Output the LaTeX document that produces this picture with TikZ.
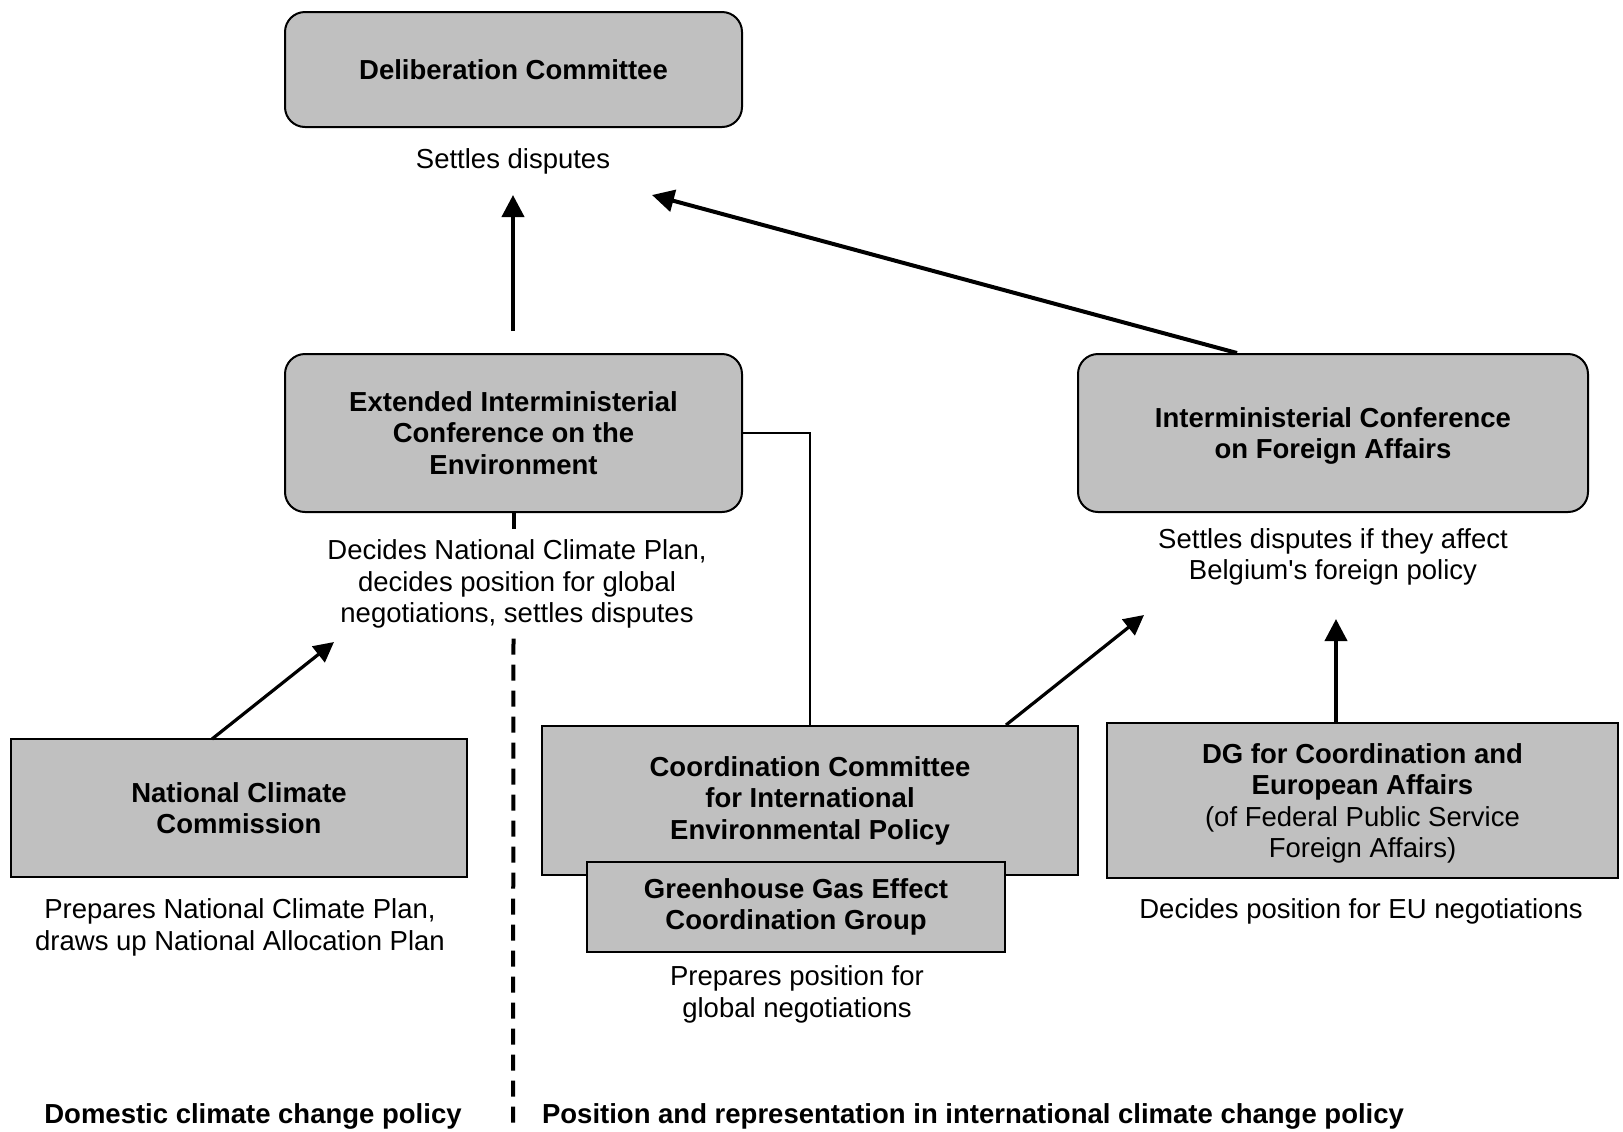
\documentclass[tikz,border=0pt]{standalone}
\usepackage{fontspec}
\setmainfont{Liberation Sans}
\newfontfamily\plainquote{Liberation Sans}
\usetikzlibrary{arrows.meta}
\definecolor{boxgray}{HTML}{C0C0C0}
\begin{document}
\begin{tikzpicture}[x=0.5pt,y=-0.5pt,
  font=\fontsize{13.75}{15.75}\selectfont,
  rbox/.style={draw, line width=1pt, fill=boxgray, rounded corners=10pt, align=center,
    font=\fontsize{13.75}{15.75}\selectfont\bfseries, inner sep=0pt},
  sbox/.style={draw, line width=1pt, fill=boxgray, align=center,
    font=\fontsize{13.75}{15.75}\selectfont\bfseries, inner sep=0pt},
  desc/.style={align=center, inner sep=2pt},
  lbl/.style={align=center, inner sep=2pt, font=\fontsize{13.75}{15.75}\selectfont\bfseries},
  arr/.style={line width=2pt, -{Triangle[length=11pt,width=11pt]}},
  darr/.style={line width=1.6pt, -{Triangle[length=10pt,width=10pt]}},
  link/.style={line width=1pt},
  divider/.style={line width=2pt, dash pattern=on 8pt off 5pt}
]
\useasboundingbox (0,0) rectangle (1623,1131);

% boxes
\node[rbox, minimum width=228.5pt, minimum height=57.5pt] (delib) at (513.5,69.5) {Deliberation Committee};
\node[rbox, minimum width=228.5pt, minimum height=79pt] (ext) at (513.5,433) {Extended Interministerial\\Conference on the\\Environment};
\node[rbox, minimum width=255pt, minimum height=79pt, text depth=-2pt] (icfa) at (1333,433) {Interministerial Conference\\on Foreign Affairs};
\node[sbox, minimum width=228pt, minimum height=69pt] (ncc) at (239,808) {National Climate\\Commission};
\node[sbox, minimum width=268pt, minimum height=74.5pt] (ccie) at (810,800.5) {Coordination Committee\\for International\\Environmental Policy};
\node[sbox, minimum width=209pt, minimum height=45pt] (ghg) at (796,907) {Greenhouse Gas Effect\\Coordination Group};
\node[sbox, minimum width=255.5pt, minimum height=77.5pt, text depth=-3pt] (dg) at (1362.5,800.5) {DG for Coordination and\\European Affairs\\\mdseries(of Federal Public Service\\\mdseries Foreign Affairs)};

% descriptions
\node[desc] (sd) at (513,161) {Settles disputes};
\node[desc, inner sep=5pt] (dec) at (517,584) {Decides National Climate Plan,\\decides position for global\\negotiations, settles disputes};
\node[desc] (sdf) at (1333,557) {Settles disputes if they affect\\Belgium{\plainquote'}s foreign policy};
\node[desc] (pncp) at (240,927.5) {Prepares National Climate Plan,\\draws up National Allocation Plan};
\node[desc] (ppos) at (797,994.5) {Prepares position for\\global negotiations};
\node[desc] (deu) at (1361,911) {Decides position for EU negotiations};

% bottom labels
\node[lbl] (dom) at (253,1116) {Domestic climate change policy};
\node[lbl] (intl) at (973,1116) {Position and representation in international climate change policy};

% free ends of arrows
\coordinate (a1s) at (513,331);
\coordinate (a1e) at (513,195);
\coordinate (a2s) at (1237,353);
\coordinate (a2e) at (652,195);
\coordinate (a3s) at (212,739);
\coordinate (a3e) at (334,642);
\coordinate (a4s) at (1006,725);
\coordinate (a4e) at (1144,615);
\coordinate (a5s) at (1336,723);
\coordinate (a5e) at (1336,619);
\coordinate (divbot) at (513,1124);

% connectors
\draw[arr] (a1s) -- (a1e);
\draw[arr] (a2s) -- (a2e);
\draw[darr] (a3s) -- (a3e);
\draw[darr] (a4s) -- (a4e);
\draw[arr] (a5s) -- (a5e);
\draw[link] (ext.east) -| (ccie.north);

% divider
\draw[divider] (ext.south) -- (ext.south |- dec.north);
\draw[divider] (ext.south |- dec.south) -- (divbot);
\end{tikzpicture}
\end{document}
